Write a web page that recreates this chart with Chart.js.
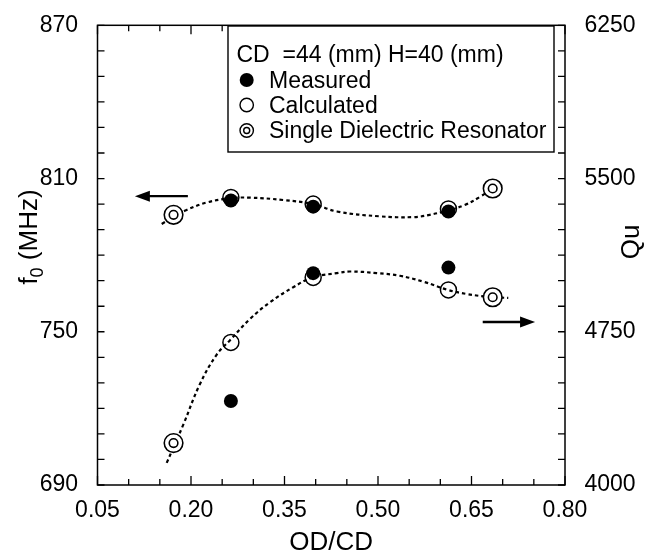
<!DOCTYPE html>
<html>
<head>
<meta charset="utf-8">
<script src="https://cdn.jsdelivr.net/npm/chart.js@4.4.0/dist/chart.umd.min.js"></script>
<style>
  body { margin: 0; background: #fff; }
  #wrap { width: 645px; height: 559px; }
</style>
</head>
<body>
<div id="wrap"><canvas id="chart"></canvas></div>
<script>
// OD/CD positions of the points
const odcd = [0.264, 0.396, 0.613];
const odcdSingle = [0.172, 0.684];

// resonant frequency f0 (MHz), left axis
const f0Measured = [801.4, 799.0, 797.1];
const f0Calculated = [802.6, 800.0, 798.1];
const f0Single = [795.8, 806.1];

// unloaded Q, right axis
const quMeasured = [4411, 5037, 5064];
const quCalculated = [4698, 5016, 4955];
const quSingle = [4205, 4919];

// dotted fit curves
const f0FitX = [0.153, 0.172, 0.193, 0.225, 0.264, 0.295, 0.348, 0.396, 0.434, 0.503, 0.557, 0.583, 0.612, 0.640, 0.664, 0.684];
const f0FitY = [792.2, 795.0, 797.7, 800.6, 802.3, 802.5, 801.6, 800.0, 797.1, 795.2, 794.9, 795.8, 797.5, 799.7, 802.9, 806.1];
const quFitX = [0.161, 0.188, 0.214, 0.241, 0.263, 0.295, 0.327, 0.364, 0.395, 0.434, 0.455, 0.498, 0.535, 0.573, 0.612, 0.642, 0.684, 0.709];
const quFitY = [4108, 4298, 4492, 4637, 4710, 4814, 4895, 4968, 5016, 5037, 5045, 5037, 5024, 4995, 4955, 4935, 4919, 4916];

// tick labels
const xTicks = [0.05, 0.20, 0.35, 0.50, 0.65, 0.80];
const f0Ticks = [690, 750, 810, 870];
const quTicks = [4000, 4750, 5500, 6250];

const FONT = "'Liberation Sans', Arial, Helvetica, sans-serif";

function pts(xs, ys) {
    return xs.map((x, i) => ({ x: x, y: ys[i] }));
}

function drawArrow(ctx, x1, y, x2) {
    const dir = x2 > x1 ? 1 : -1;
    ctx.beginPath();
    ctx.lineWidth = 2.4;
    ctx.moveTo(x1, y);
    ctx.lineTo(x2 - dir * 10, y);
    ctx.stroke();
    ctx.beginPath();
    ctx.moveTo(x2, y);
    ctx.lineTo(x2 - dir * 15, y - 5.5);
    ctx.lineTo(x2 - dir * 15, y + 5.5);
    ctx.closePath();
    ctx.fill();
}

const decor = {
    id: 'decor',
    afterDraw(chart) {
        const { ctx, chartArea: a, scales } = chart;
        const x = scales.x, yl = scales.y, yr = scales.y2;
        ctx.save();
        ctx.strokeStyle = '#000';
        ctx.fillStyle = '#000';
        ctx.lineWidth = 1.5;
        ctx.strokeRect(a.left, a.top, a.right - a.left, a.bottom - a.top);

        // inward ticks on all four sides
        ctx.lineWidth = 1.3;
        ctx.beginPath();
        for (let k = 0; k <= 15; k++) {
            const px = x.getPixelForValue(0.05 + k * 0.05);
            const len = k % 3 === 0 ? 9 : 6;
            ctx.moveTo(px, a.bottom); ctx.lineTo(px, a.bottom - len);
            ctx.moveTo(px, a.top); ctx.lineTo(px, a.top + len);
        }
        for (let k = 0; k <= 18; k++) {
            const py = yl.getPixelForValue(690 + k * 10);
            ctx.moveTo(a.left, py); ctx.lineTo(a.left + 7, py);
            ctx.moveTo(a.right, py); ctx.lineTo(a.right - 7, py);
        }
        ctx.stroke();

        // arrows pointing at the axis each group belongs to
        drawArrow(ctx, x.getPixelForValue(0.195), yl.getPixelForValue(803.1), x.getPixelForValue(0.110));
        drawArrow(ctx, x.getPixelForValue(0.668), yr.getPixelForValue(4798), x.getPixelForValue(0.752));

        // legend box
        ctx.lineWidth = 1.4;
        ctx.fillStyle = '#fff';
        ctx.fillRect(228, 26, 326, 126);
        ctx.strokeRect(228, 26, 326, 126);
        ctx.fillStyle = '#000';
        ctx.font = '23px ' + FONT;
        ctx.textAlign = 'left';
        ctx.textBaseline = 'alphabetic';
        ctx.fillText('CD  =44 (mm) H=40 (mm)', 236.5, 61.5);
        ctx.fillText('Measured', 269, 87.5);
        ctx.fillText('Calculated', 269, 112.5);
        ctx.fillText('Single Dielectric Resonator', 269, 137.5);
        ctx.beginPath(); ctx.arc(246.7, 80, 7, 0, Math.PI * 2); ctx.fill();
        ctx.lineWidth = 1.4;
        ctx.beginPath(); ctx.arc(246.7, 105, 6.7, 0, Math.PI * 2); ctx.stroke();
        ctx.beginPath(); ctx.arc(246.7, 130.5, 6.7, 0, Math.PI * 2); ctx.stroke();
        ctx.beginPath(); ctx.arc(246.7, 130.5, 3.0, 0, Math.PI * 2); ctx.stroke();

        // axis titles
        ctx.font = '26px ' + FONT;
        ctx.textAlign = 'center';
        ctx.fillText('OD/CD', (a.left + a.right) / 2, 550);

        ctx.save();
        ctx.translate(37, 237);
        ctx.rotate(-Math.PI / 2);
        const big = '26px ' + FONT, small = '18px ' + FONT;
        ctx.font = big;
        const wf = ctx.measureText('f').width;
        const wr = ctx.measureText(' (MHz)').width;
        ctx.font = small;
        const w0 = ctx.measureText('0').width;
        let sx = -(wf + w0 + wr) / 2;
        ctx.textAlign = 'left';
        ctx.font = big; ctx.fillText('f', sx, 0);
        ctx.font = small; ctx.fillText('0', sx + wf, 6);
        ctx.font = big; ctx.fillText(' (MHz)', sx + wf + w0, 0);
        ctx.restore();

        ctx.save();
        ctx.translate(639, 242);
        ctx.rotate(-Math.PI / 2);
        ctx.font = '26px ' + FONT;
        ctx.textAlign = 'center';
        ctx.fillText('Qu', 0, 0);
        ctx.restore();

        ctx.restore();
    }
};

const tickFont = { family: FONT, size: 23 };
const filled = { pointRadius: 7, pointBackgroundColor: '#000', pointBorderColor: '#000', pointBorderWidth: 0, order: 0 };
const hollow = { pointRadius: 8, pointBackgroundColor: 'rgba(0,0,0,0)', pointBorderColor: '#000', pointBorderWidth: 1.5, order: 1 };
const ringIn = { pointRadius: 4.3, pointBackgroundColor: 'rgba(0,0,0,0)', pointBorderColor: '#000', pointBorderWidth: 1.6, order: 2 };
const ringOut = { pointRadius: 9.3, pointBackgroundColor: '#fff', pointBorderColor: '#000', pointBorderWidth: 1.6, order: 3 };
const fit = { showLine: true, borderColor: '#000', borderWidth: 2.2, borderDash: [3.5, 3], tension: 0.4, pointRadius: 0, order: 4 };

new Chart(document.getElementById('chart'), {
    type: 'scatter',
    data: {
        datasets: [
            Object.assign({ label: 'Measured f0', data: pts(odcd, f0Measured), yAxisID: 'y' }, filled),
            Object.assign({ label: 'Measured Qu', data: pts(odcd, quMeasured), yAxisID: 'y2' }, filled),
            Object.assign({ label: 'Calculated f0', data: pts(odcd, f0Calculated), yAxisID: 'y' }, hollow),
            Object.assign({ label: 'Calculated Qu', data: pts(odcd, quCalculated), yAxisID: 'y2' }, hollow),
            Object.assign({ label: 'Single f0', data: pts(odcdSingle, f0Single), yAxisID: 'y' }, ringIn),
            Object.assign({ label: 'Single Qu', data: pts(odcdSingle, quSingle), yAxisID: 'y2' }, ringIn),
            Object.assign({ label: 'Single f0 outer', data: pts(odcdSingle, f0Single), yAxisID: 'y' }, ringOut),
            Object.assign({ label: 'Single Qu outer', data: pts(odcdSingle, quSingle), yAxisID: 'y2' }, ringOut),
            Object.assign({ label: 'f0 fit', data: pts(f0FitX, f0FitY), yAxisID: 'y' }, fit),
            Object.assign({ label: 'Qu fit', data: pts(quFitX, quFitY), yAxisID: 'y2' }, fit)
        ]
    },
    options: {
        responsive: true,
        maintainAspectRatio: false,
        animation: false,
        layout: { padding: { top: 20, left: 0, right: 0, bottom: 0 } },
        plugins: { legend: { display: false }, tooltip: { enabled: false } },
        scales: {
            x: {
                type: 'linear', min: 0.05, max: 0.80,
                afterBuildTicks: s => { s.ticks = xTicks.map(v => ({ value: v })); },
                afterFit: s => { s.height = 74; },
                grid: { display: false }, border: { display: false },
                ticks: { font: tickFont, color: '#000', padding: 4, autoSkip: false, maxRotation: 0,
                         callback: v => v.toFixed(2) }
            },
            y: {
                position: 'left', min: 690, max: 870,
                afterBuildTicks: s => { s.ticks = f0Ticks.map(v => ({ value: v })); },
                afterFit: s => { s.width = 97.5; },
                grid: { display: false }, border: { display: false },
                ticks: { font: tickFont, color: '#000', padding: 11.5, autoSkip: false, callback: v => String(v) }
            },
            y2: {
                position: 'right', min: 4000, max: 6250,
                afterBuildTicks: s => { s.ticks = quTicks.map(v => ({ value: v })); },
                afterFit: s => { s.width = 80; },
                grid: { display: false }, border: { display: false },
                ticks: { font: tickFont, color: '#000', padding: 11.5, autoSkip: false, callback: v => String(v) }
            }
        }
    },
    plugins: [decor]
});
</script>
</body>
</html>
